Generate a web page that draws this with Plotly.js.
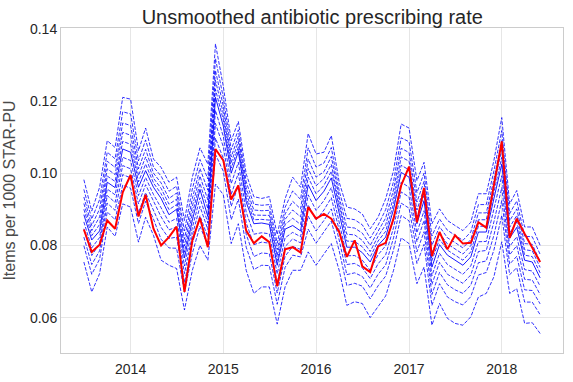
<!DOCTYPE html>
<html>
<head>
<meta charset="utf-8">
<script src="https://cdn.plot.ly/plotly-3.0.1.min.js"></script>
<style>html,body{margin:0;padding:0;background:#fff;}#chart{width:573px;height:382px;}</style>
</head>
<body>
<div id="chart"></div>
<script>
const months = ["2013-07-01","2013-08-01","2013-09-01","2013-10-01","2013-11-01","2013-12-01",
"2014-01-01","2014-02-01","2014-03-01","2014-04-01","2014-05-01","2014-06-01","2014-07-01","2014-08-01","2014-09-01","2014-10-01","2014-11-01","2014-12-01",
"2015-01-01","2015-02-01","2015-03-01","2015-04-01","2015-05-01","2015-06-01","2015-07-01","2015-08-01","2015-09-01","2015-10-01","2015-11-01","2015-12-01",
"2016-01-01","2016-02-01","2016-03-01","2016-04-01","2016-05-01","2016-06-01","2016-07-01","2016-08-01","2016-09-01","2016-10-01","2016-11-01","2016-12-01",
"2017-01-01","2017-02-01","2017-03-01","2017-04-01","2017-05-01","2017-06-01","2017-07-01","2017-08-01","2017-09-01","2017-10-01","2017-11-01","2017-12-01",
"2018-01-01","2018-02-01","2018-03-01","2018-04-01","2018-05-01","2018-06-01"];

const p99 = [.0982,.0895,.0961,.1090,.1071,.1210,.1205,.1062,.1125,.1039,
 .1016,.0975,.0989,.0869,.0989,.1070,.1025,.1358,.1240,.1090,
 .1143,.0998,.0935,.0930,.0935,.0830,.0929,.0989,.0961,.1110,
 .1053,.1058,.1104,.0975,.0906,.0901,.0887,.0846,.0878,.0929,
 .1007,.1136,.1125,.0979,.1030,.0860,.0901,.0869,.0855,.0841,
 .0864,.0943,.0943,.1035,.1154,.0915,.0952,.0851,.0851,.0800];
const p90 = [.0955,.0873,.0927,.1058,.1040,.1170,.1164,.1034,.1092,.1017,
 .0992,.0950,.0964,.0840,.0956,.1038,.0984,.1317,.1209,.1065,
 .1120,.0976,.0914,.0911,.0913,.0806,.0905,.0951,.0927,.1070,
 .1017,.1028,.1071,.0951,.0875,.0871,.0857,.0820,.0856,.0899,
 .0977,.1098,.1087,.0946,.1000,.0826,.0873,.0842,.0828,.0814,
 .0837,.0913,.0913,.1006,.1118,.0888,.0923,.0825,.0824,.0775];
const p80 = [.0934,.0855,.0901,.1033,.1016,.1139,.1132,.1012,.1066,.1000,
 .0973,.0930,.0945,.0817,.0930,.1013,.0953,.1284,.1185,.1045,
 .1102,.0959,.0898,.0896,.0897,.0788,.0887,.0922,.0901,.1039,
 .0989,.1004,.1046,.0933,.0851,.0848,.0834,.0800,.0839,.0876,
 .0954,.1069,.1057,.0920,.0977,.0800,.0852,.0821,.0808,.0793,
 .0816,.0890,.0890,.0983,.1090,.0868,.0901,.0805,.0803,.0755];
const p70 = [.0916,.0841,.0879,.1012,.0996,.1113,.1105,.0993,.1045,.0986,
 .0958,.0914,.0928,.0798,.0908,.0992,.0926,.1257,.1165,.1029,
 .1087,.0945,.0884,.0884,.0883,.0772,.0872,.0898,.0879,.1013,
 .0965,.0985,.1024,.0917,.0831,.0829,.0814,.0783,.0825,.0857,
 .0934,.1045,.1033,.0898,.0958,.0778,.0834,.0804,.0790,.0776,
 .0799,.0871,.0871,.0964,.1066,.0850,.0883,.0788,.0785,.0739];
const p60 = [.0900,.0827,.0858,.0992,.0977,.1088,.1080,.0976,.1025,.0973,
 .0943,.0899,.0913,.0781,.0888,.0972,.0902,.1232,.1147,.1014,
 .1072,.0932,.0871,.0872,.0870,.0758,.0858,.0875,.0858,.0989,
 .0943,.0966,.1005,.0903,.0812,.0811,.0796,.0768,.0812,.0839,
 .0916,.1022,.1009,.0878,.0940,.0758,.0817,.0787,.0774,.0759,
 .0782,.0853,.0853,.0946,.1044,.0834,.0865,.0773,.0769,.0724];
const p50 = [.0885,.0815,.0840,.0975,.0960,.1067,.1058,.0961,.1007,.0961,
 .0930,.0885,.0900,.0765,.0870,.0955,.0880,.1210,.1130,.1000,
 .1060,.0920,.0860,.0862,.0858,.0745,.0845,.0855,.0840,.0968,
 .0924,.0950,.0987,.0890,.0795,.0795,.0780,.0754,.0800,.0823,
 .0900,.1002,.0989,.0860,.0924,.0740,.0802,.0773,.0760,.0745,
 .0768,.0837,.0837,.0930,.1025,.0820,.0850,.0759,.0754,.0710];
const p40 = [.0865,.0793,.0822,.0956,.0940,.1044,.1035,.0938,.0988,.0941,
 .0904,.0864,.0875,.0743,.0849,.0932,.0862,.1174,.1101,.0971,
 .1030,.0892,.0831,.0835,.0832,.0721,.0821,.0836,.0824,.0940,
 .0897,.0924,.0960,.0866,.0771,.0772,.0759,.0731,.0774,.0799,
 .0875,.0975,.0961,.0835,.0896,.0716,.0778,.0747,.0734,.0720,
 .0743,.0810,.0811,.0897,.0993,.0797,.0824,.0733,.0729,.0687];
const p30 = [.0846,.0772,.0805,.0938,.0919,.1021,.1012,.0915,.0968,.0921,
 .0879,.0843,.0851,.0722,.0828,.0908,.0844,.1138,.1073,.0941,
 .1000,.0863,.0802,.0809,.0806,.0696,.0797,.0818,.0807,.0912,
 .0870,.0898,.0932,.0842,.0747,.0750,.0738,.0708,.0749,.0774,
 .0849,.0948,.0934,.0810,.0869,.0692,.0753,.0720,.0707,.0695,
 .0718,.0783,.0786,.0865,.0960,.0774,.0799,.0706,.0704,.0664];
const p20 = [.0823,.0747,.0785,.0917,.0897,.0996,.0987,.0890,.0946,.0898,
 .0850,.0819,.0823,.0697,.0805,.0882,.0823,.1097,.1041,.0908,
 .0966,.0831,.0769,.0779,.0777,.0668,.0770,.0797,.0789,.0881,
 .0840,.0869,.0901,.0815,.0719,.0724,.0714,.0682,.0720,.0746,
 .0821,.0917,.0903,.0782,.0838,.0664,.0725,.0691,.0677,.0667,
 .0690,.0752,.0757,.0828,.0924,.0748,.0770,.0677,.0675,.0638];
const p10 = [.0799,.0720,.0762,.0893,.0871,.0967,.0958,.0861,.0922,.0873,
 .0817,.0793,.0792,.0670,.0778,.0853,.0800,.1052,.1005,.0871,
 .0928,.0795,.0733,.0745,.0744,.0637,.0739,.0773,.0768,.0845,
 .0806,.0836,.0867,.0785,.0689,.0695,.0687,.0652,.0688,.0715,
 .0788,.0883,.0868,.0750,.0803,.0634,.0694,.0657,.0644,.0635,
 .0658,.0718,.0725,.0787,.0883,.0719,.0738,.0643,.0643,.0608];
const p1 = [.0754,.0671,.0722,.0851,.0825,.0915,.0906,.0809,.0878,.0828,
 .0759,.0745,.0736,.0621,.0731,.0800,.0759,.0970,.0940,.0805,
 .0860,.0731,.0667,.0685,.0685,.0582,.0685,.0731,.0731,.0782,
 .0745,.0777,.0805,.0731,.0634,.0644,.0639,.0600,.0630,.0660,
 .0731,.0821,.0805,.0694,.0740,.0579,.0639,.0598,.0584,.0579,
 .0602,.0657,.0667,.0713,.0810,.0667,.0680,.0584,.0586,.0556];
const selected = [.0844,.0782,.0802,.0869,.0846,.0947,.0995,.0880,.0940,.0846,
 .0800,.0823,.0852,.0671,.0814,.0876,.0795,.1067,.1035,.0927,
 .0966,.0841,.0806,.0825,.0809,.0687,.0789,.0795,.0780,.0906,
 .0874,.0887,.0874,.0837,.0768,.0814,.0742,.0726,.0797,.0807,
 .0874,.0966,.1018,.0864,.0959,.0770,.0837,.0789,.0828,.0805,
 .0807,.0864,.0849,.0970,.1088,.0821,.0874,.0832,.0795,.0754];

const tickVals = ["2014-01-01","2015-01-01","2016-01-01","2017-01-01","2018-01-01"];
const tickText = ["2014","2015","2016","2017","2018"];
const yTicks = [0.06, 0.08, 0.10, 0.12, 0.14];

const dashedSeries = [p99, p90, p80, p70, p60, p40, p30, p20, p10, p1];
const traces = [];
dashedSeries.forEach(function(s){
  traces.push({x: months, y: s, type: 'scatter', mode: 'lines',
    line: {color: 'rgb(0,0,255)', width: 1, dash: '3.7px,1.6px'}, opacity: 0.8,
    hoverinfo: 'skip', showlegend: false});
});
traces.push({x: months, y: p50, type: 'scatter', mode: 'lines',
  line: {color: 'rgb(0,0,255)', width: 1}, opacity: 0.9, showlegend: false});
traces.push({x: months, y: selected, type: 'scatter', mode: 'lines',
  line: {color: 'rgb(255,0,0)', width: 2}, showlegend: false});

const layout = {
  width: 573, height: 382,
  margin: {l: 61, r: 10, t: 28, b: 29, pad: 0},
  paper_bgcolor: '#ffffff', plot_bgcolor: '#ffffff',
  font: {family: '"Liberation Sans", Arial, sans-serif', color: '#262626'},
  title: {text: 'Unsmoothed antibiotic prescribing rate', x: 0.545, xanchor: 'center', y: 0.955, yanchor: 'middle',
    font: {size: 20, color: '#262626'}},
  xaxis: {type: 'date', range: ['2013-04-02', '2018-08-30'], tickvals: tickVals, ticktext: tickText,
    showgrid: true, gridcolor: '#e6e6e6', gridwidth: 1, zeroline: false,
    showline: true, linecolor: '#cccccc', linewidth: 1, mirror: true,
    ticks: '', ticklabelstandoff: 3, tickfont: {size: 14, color: '#262626'}},
  yaxis: {range: [0.0502, 0.1402], tickvals: yTicks, tickformat: '.2f',
    showgrid: true, gridcolor: '#e6e6e6', gridwidth: 1, zeroline: false,
    showline: true, linecolor: '#cccccc', linewidth: 1, mirror: true,
    ticks: '', tickfont: {size: 14, color: '#262626'},
    title: {text: 'Items per 1000 STAR-PU', font: {size: 16, color: '#4a4a4a'}, standoff: 10}}
};
Plotly.newPlot('chart', traces, layout, {displayModeBar: false, staticPlot: true});
</script>
</body>
</html>
